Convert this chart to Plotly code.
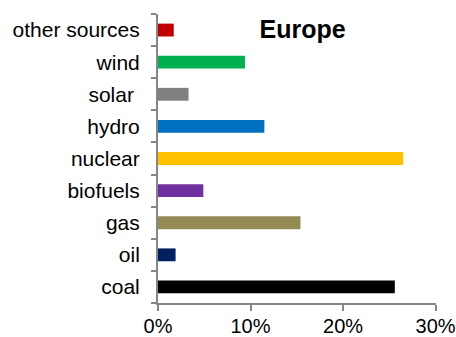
import plotly.graph_objects as go

categories = ["coal", "oil", "gas", "biofuels", "nuclear", "hydro", "solar", "wind", "other sources"]
tick_labels = ["coal", "oil", "gas", "biofuels", "nuclear", "hydro", "solar\u00a0", "wind", "other sources"]
values = [0.256, 0.019, 0.154, 0.049, 0.265, 0.115, 0.033, 0.094, 0.017]
colors = ["#000000", "#002060", "#948A54", "#7030A0", "#FFC000", "#0070C0", "#808080", "#00B050", "#C00000"]
x_ticks = [0, 0.1, 0.2, 0.3]
x_tick_labels = ["0%", "10%", "20%", "30%"]

fig = go.Figure(go.Bar(
    y=categories, x=values, orientation="h",
    marker=dict(color=colors, line=dict(width=0)),
    width=0.4,
))

fig.update_layout(
    width=456, height=337,
    margin=dict(l=158, r=20, t=14, b=34),
    paper_bgcolor="white", plot_bgcolor="white",
    font=dict(family="Liberation Sans, Arial, sans-serif", size=21, color="#000000"),
    showlegend=False,
    title=dict(text="<b>Europe</b>", xref="paper", yref="paper", x=0.52, y=0.948,
               xanchor="center", yanchor="middle", font=dict(size=25, color="#000000")),
)
fig.update_xaxes(
    range=[0, 0.3005], tickvals=x_ticks, ticktext=x_tick_labels,
    showgrid=False, zeroline=False, automargin=False,
    showline=True, linecolor="#868686", linewidth=2,
    ticks="outside", ticklen=6, tickwidth=2, tickcolor="#868686",
    ticklabeloverflow="allow", tickfont=dict(size=20), ticklabelstandoff=-2,
)
fig.update_yaxes(
    categoryorder="array", categoryarray=categories,
    tickvals=categories, ticktext=tick_labels,
    showgrid=False, zeroline=False, automargin=False,
    showline=True, linecolor="#868686", linewidth=2,
    ticks="outside", ticklen=5, tickwidth=2, tickcolor="#868686",
    tickson="boundaries", ticklabelstandoff=12,
)

fig.write_html("out.html")
